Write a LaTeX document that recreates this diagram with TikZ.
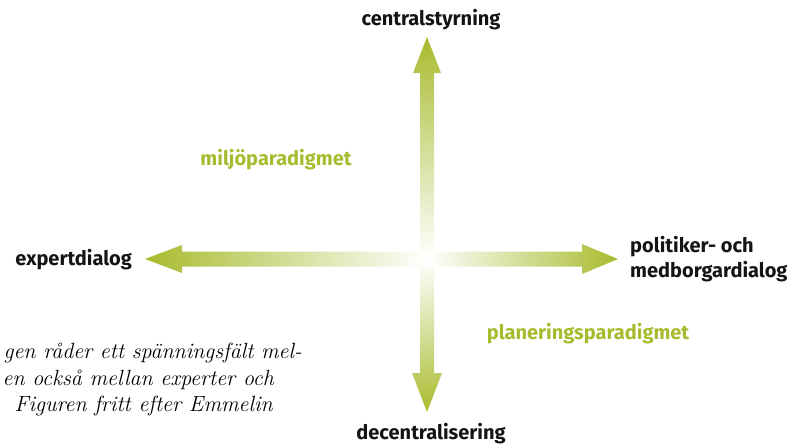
\documentclass[tikz,border=0pt]{standalone}
\usepackage{fontspec}
\setsansfont{Fira Sans}
\usepackage{tikz}
\usetikzlibrary{calc}
\definecolor{olive}{RGB}{168, 187, 46}
\definecolor{ink}{RGB}{20, 20, 20}

\tikzset{
  axislabel/.style={font=\sffamily\bfseries\fontsize{20}{25}\selectfont, color=ink, inner sep=0pt},
  paradigm/.style={font=\sffamily\bfseries\fontsize{20}{25}\selectfont, color=olive, inner sep=0pt},
  caption/.style={font=\itshape\fontsize{22}{27}\selectfont, color=black, inner sep=0pt}
}

\begin{document}
\begin{tikzpicture}[x=1pt, y=-1pt]

  \useasboundingbox (0, 0) rectangle (794, 445);

  \coordinate (c) at (427, 259);

  % up
  \shade[top color=olive, bottom color=white]
    ($(c)+(-7, 0)$) -- ($(c)+(-7, -186)$) -- ($(c)+(-14, -186)$) -- ($(c)+(0, -222)$)
    -- ($(c)+(14, -186)$) -- ($(c)+(7, -186)$) -- ($(c)+(7, 0)$) -- cycle;
  % down
  \shade[bottom color=olive, top color=white]
    ($(c)+(-7, 0)$) -- ($(c)+(-7, 114)$) -- ($(c)+(-15, 114)$) -- ($(c)+(0, 153)$)
    -- ($(c)+(15, 114)$) -- ($(c)+(7, 114)$) -- ($(c)+(7, 0)$) -- cycle;
  % left
  \shade[left color=olive, right color=white]
    ($(c)+(0, -7.5)$) -- ($(c)+(-245, -7.5)$) -- ($(c)+(-245, -14)$) -- ($(c)+(-282, 0)$)
    -- ($(c)+(-245, 14)$) -- ($(c)+(-245, 7.5)$) -- ($(c)+(0, 7.5)$) -- cycle;
  % right
  \shade[right color=olive, left color=white]
    ($(c)+(0, -7.5)$) -- ($(c)+(155, -7.5)$) -- ($(c)+(155, -15)$) -- ($(c)+(191, 0)$)
    -- ($(c)+(155, 15)$) -- ($(c)+(155, 7.5)$) -- ($(c)+(0, 7.5)$) -- cycle;

  \node[axislabel] (top) at (431, 20) {centralstyrning};
  \node[axislabel] (bottom) at (431, 434) {decentralisering};
  \node[axislabel, anchor=east] (left) at (132, 260) {expertdialog};
  \node[axislabel, anchor=west, align=left] (right) at (630, 259) {politiker- och\\medborgardialog};

  \node[paradigm] (miljo) at (276, 160) {miljöparadigmet};
  \node[paradigm] (plan) at (588, 334) {planeringsparadigmet};

  \node[caption, anchor=base east] (cap1) at (302, 358) {gen råder ett spänningsfält mel-};
  \node[caption, anchor=base east] (cap2) at (274, 385) {en också mellan experter och};
  \node[caption, anchor=base east] (cap3) at (273, 411) {Figuren fritt efter Emmelin};

\end{tikzpicture}
\end{document}
